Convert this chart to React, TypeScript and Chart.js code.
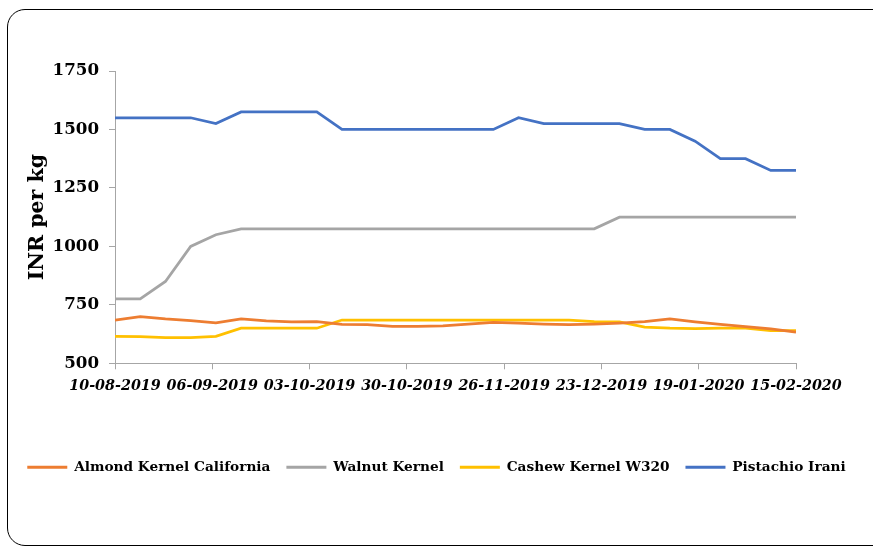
import React, { useEffect, useRef } from 'react';
import { Chart, registerables } from 'chart.js';

Chart.register(...registerables);

const dates = [
  '10-08-2019', '17-08-2019', '24-08-2019', '31-08-2019', '07-09-2019', '14-09-2019', '21-09-2019',
  '28-09-2019', '05-10-2019', '12-10-2019', '19-10-2019', '26-10-2019', '02-11-2019', '09-11-2019',
  '16-11-2019', '23-11-2019', '30-11-2019', '07-12-2019', '14-12-2019', '21-12-2019', '28-12-2019',
  '04-01-2020', '11-01-2020', '18-01-2020', '25-01-2020', '01-02-2020', '08-02-2020', '15-02-2020',
];

const tickLabels = [
  '10-08-2019', '06-09-2019', '03-10-2019', '30-10-2019',
  '26-11-2019', '23-12-2019', '19-01-2020', '15-02-2020',
];

const almond = [685, 700, 690, 683, 673, 690, 681, 677, 678, 666, 665, 658, 658, 660,
  668, 675, 672, 668, 665, 668, 672, 678, 690, 677, 666, 657, 647, 633];
const walnut = [775, 775, 850, 1000, 1050, 1075, 1075, 1075, 1075, 1075, 1075, 1075, 1075, 1075,
  1075, 1075, 1075, 1075, 1075, 1075, 1125, 1125, 1125, 1125, 1125, 1125, 1125, 1125];
const cashew = [615, 614, 610, 610, 615, 650, 650, 650, 650, 685, 685, 685, 685, 685,
  685, 685, 685, 685, 685, 678, 677, 655, 650, 648, 650, 650, 640, 640];
const pistachio = [1550, 1550, 1550, 1550, 1525, 1575, 1575, 1575, 1575, 1500, 1500, 1500, 1500, 1500,
  1500, 1500, 1550, 1525, 1525, 1525, 1525, 1500, 1500, 1450, 1375, 1375, 1325, 1325];

const seriesNames = ['Almond Kernel California', 'Walnut Kernel', 'Cashew Kernel W320', 'Pistachio Irani'];
const seriesColors = ['#ED7D31', '#A5A5A5', '#FFC000', '#4472C4'];
const seriesValues = [almond, walnut, cashew, pistachio];

const yTitle = 'INR per kg';
const yMin = 500;
const yMax = 1750;
const yStep = 250;

const FONT = "'DejaVu Serif', serif";

function dayOffset(label: string): number {
  const [d, m, y] = label.split('-').map(Number);
  const [d0, m0, y0] = dates[0].split('-').map(Number);
  return (Date.UTC(y, m - 1, d) - Date.UTC(y0, m0 - 1, d0)) / 86400000;
}

export default function App() {
  const ref = useRef<HTMLCanvasElement | null>(null);

  useEffect(() => {
    if (!ref.current) return;
    const chart = new Chart(ref.current, {
      type: 'line',
      data: {
        datasets: seriesValues.map((vals, i) => ({
          label: seriesNames[i],
          data: vals.map((v, j) => ({ x: dayOffset(dates[j]), y: v })),
          borderColor: seriesColors[i],
          backgroundColor: seriesColors[i],
          borderWidth: 2.75,
          pointRadius: 0,
          tension: 0,
          fill: false,
        })),
      },
      options: {
        animation: false,
        responsive: false,
        layout: { padding: 0 },
        plugins: {
          tooltip: { enabled: false },
          legend: {
            position: 'bottom',
            labels: {
              boxWidth: 40,
              boxHeight: 3,
              padding: 16,
              color: '#000',
              font: { family: FONT, size: 13.7, weight: 'bold' },
              generateLabels: (c: any) =>
                c.data.datasets.map((ds: any, i: number) => ({
                  text: ds.label,
                  fillStyle: ds.borderColor,
                  strokeStyle: ds.borderColor,
                  lineWidth: 0,
                  hidden: false,
                  datasetIndex: i,
                  fontColor: '#000',
                })),
            },
          },
        },
        scales: {
          x: {
            type: 'linear',
            min: dayOffset(tickLabels[0]),
            max: dayOffset(tickLabels[tickLabels.length - 1]),
            afterBuildTicks: (scale: any) => {
              scale.ticks = tickLabels.map((l) => ({ value: dayOffset(l) }));
            },
            afterFit: (scale: any) => {
              scale.height = 81;
              scale.paddingRight = 77;
            },
            ticks: {
              autoSkip: false,
              maxRotation: 0,
              minRotation: 0,
              padding: 8,
              color: '#000',
              font: { family: FONT, size: 14.3, weight: 'bold', style: 'italic' },
              callback: (value: any) => {
                const idx = tickLabels.findIndex((l) => Math.abs(dayOffset(l) - Number(value)) < 0.01);
                return idx >= 0 ? tickLabels[idx] : '';
              },
            },
            grid: { display: true, drawOnChartArea: false, drawTicks: true, tickLength: 6, color: '#A6A6A6' },
            border: { display: true, color: '#A6A6A6', width: 1 },
          },
          y: {
            min: yMin,
            max: yMax,
            afterFit: (scale: any) => {
              scale.width = 115;
              scale.paddingTop = 71;
            },
            ticks: {
              stepSize: yStep,
              padding: 10,
              color: '#000',
              font: { family: FONT, size: 16.7, weight: 'bold' },
              callback: (value: any) => String(value),
            },
            grid: { display: true, drawOnChartArea: false, drawTicks: true, tickLength: 6, color: '#A6A6A6' },
            border: { display: true, color: '#A6A6A6', width: 1 },
            title: {
              display: true,
              text: yTitle,
              color: '#000',
              padding: { top: 25, bottom: 4 },
              font: { family: FONT, size: 20.5, weight: 'bold' },
            },
          },
        },
      } as any,
    });
    return () => chart.destroy();
  }, []);

  return (
    <div style={{ position: 'fixed', left: 0, top: 0, width: 873, height: 548, background: '#fff', overflow: 'hidden' }}>
      <div
        style={{
          position: 'absolute',
          left: 7,
          top: 9,
          width: 890,
          height: 537,
          border: '1px solid #000',
          borderRadius: 18,
          boxSizing: 'border-box',
        }}
      />
      <canvas
        ref={ref}
        width={873}
        height={484}
        style={{ position: 'absolute', left: 0, top: 0, width: 873, height: 484 }}
      />
    </div>
  );
}
